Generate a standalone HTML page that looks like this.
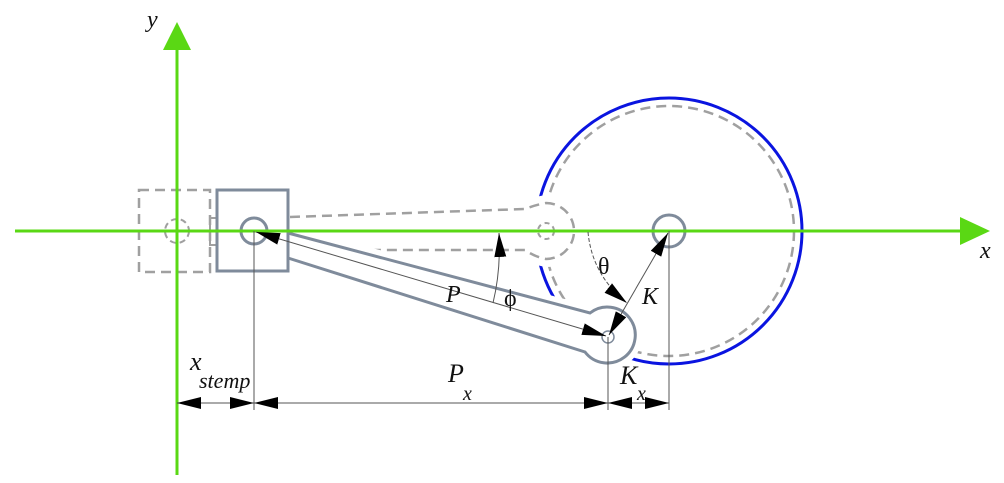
<!DOCTYPE html>
<html><head><meta charset="utf-8"><style>
html,body{margin:0;padding:0;background:#fff;}
svg{display:block;}
text{font-family:"Liberation Serif",serif;fill:#111;}
</style></head><body>
<svg width="1004" height="483" viewBox="0 0 1004 483" xmlns="http://www.w3.org/2000/svg">
<defs>
<marker id="ar2" viewBox="0 0 10 10" refX="10" refY="5" markerWidth="24" markerHeight="12" markerUnits="userSpaceOnUse" orient="auto-start-reverse" preserveAspectRatio="none">
<path d="M0,0 L10,5 L0,10 z" fill="#000"/></marker>
</defs>
<!-- circles -->
<circle cx="669" cy="231" r="133" fill="none" stroke="#0a14e0" stroke-width="3"/>
<circle cx="669" cy="231" r="125" fill="none" stroke="#a0a0a0" stroke-width="2.5" stroke-dasharray="10,6"/>
<!-- dashed rod halo -->
<path d="M290,217 L525,209 Q535,205 546,203 A28,28 0 1 1 546,259 Q535,257 525,250 L370,250" fill="#fff" stroke="#fff" stroke-width="16"/>
<path d="M290,217 L525,209 Q535,205 546,203 A28,28 0 1 1 546,259 Q535,257 525,250 L370,250" fill="#fff" stroke="#a0a0a0" stroke-width="2.5" stroke-dasharray="10,6"/>
<circle cx="546" cy="231" r="8" fill="none" stroke="#a0a0a0" stroke-width="2" stroke-dasharray="5,4"/>
<!-- dashed block -->
<rect x="139" y="190" width="71" height="82" fill="#fff" stroke="#a0a0a0" stroke-width="2.5" stroke-dasharray="10,6"/>
<circle cx="177" cy="231" r="12" fill="none" stroke="#a0a0a0" stroke-width="2" stroke-dasharray="6,4"/>
<rect x="210" y="218" width="7" height="27" fill="none" stroke="#a0a0a0" stroke-width="2"/>
<!-- rod -->
<path d="M288,233 L590,313 A28,28 0 1 1 585,352 L288,258" fill="#fff" stroke="#fff" stroke-width="14"/>
<path d="M288,233 L590,313 A28,28 0 1 1 585,352 L288,258" fill="#fff" stroke="#7f8b9b" stroke-width="3"/>
<circle cx="608" cy="337" r="6" fill="none" stroke="#7f8b9b" stroke-width="1.5"/>
<!-- block -->
<rect x="217" y="190" width="71" height="81" fill="#fff" stroke="#7f8b9b" stroke-width="3"/>
<circle cx="254" cy="231" r="13" fill="none" stroke="#7f8b9b" stroke-width="3"/>
<circle cx="669" cy="231" r="16" fill="#fff" stroke="#7f8b9b" stroke-width="3"/>
<!-- axes -->
<line x1="15" y1="231" x2="962" y2="231" stroke="#5ad814" stroke-width="3"/>
<path d="M960,217 L990,231 L960,245 z" fill="#5ad814"/>
<line x1="177" y1="475" x2="177" y2="45" stroke="#5ad814" stroke-width="3"/>
<path d="M163,50 L177,22 L191,50 z" fill="#5ad814"/>
<!-- extension lines -->
<g stroke="#555" stroke-width="1" fill="none">
<line x1="254" y1="231" x2="254" y2="410"/>
<line x1="608" y1="337" x2="608" y2="410"/>
<line x1="669" y1="231" x2="669" y2="410"/>
<line x1="177" y1="403" x2="254" y2="403" marker-start="url(#ar2)" marker-end="url(#ar2)"/>
<line x1="254" y1="403" x2="608" y2="403" marker-start="url(#ar2)" marker-end="url(#ar2)"/>
<line x1="608" y1="403" x2="669" y2="403" marker-start="url(#ar2)" marker-end="url(#ar2)"/>
<line x1="256" y1="232" x2="606" y2="336" marker-start="url(#ar2)" marker-end="url(#ar2)"/>
<line x1="609" y1="335" x2="668" y2="233" marker-start="url(#ar2)" marker-end="url(#ar2)"/>
<path d="M493,303 Q501,270 499,233" marker-end="url(#ar2)"/>
<path d="M588,232 Q592,275 627,303" stroke-dasharray="4,2" marker-end="url(#ar2)"/>
</g>
<!-- labels -->
<text x="147" y="27" font-size="24" font-style="italic">y</text>
<text x="980" y="258" font-size="24" font-style="italic">x</text>
<text x="190" y="370" font-size="26" font-style="italic">x</text>
<text x="199" y="388" font-size="22" font-style="italic">stemp</text>
<text x="448" y="382" font-size="26" font-style="italic">P</text>
<text x="463" y="400" font-size="20" font-style="italic">x</text>
<text x="620" y="384" font-size="26" font-style="italic">K</text>
<text x="637" y="400" font-size="20" font-style="italic">x</text>
<text x="446" y="302" font-size="24" font-style="italic">P</text>
<text x="504" y="306" font-size="24">ϕ</text>
<text x="598" y="274" font-size="24">θ</text>
<text x="642" y="304" font-size="24" font-style="italic">K</text>
</svg>
</body></html>
